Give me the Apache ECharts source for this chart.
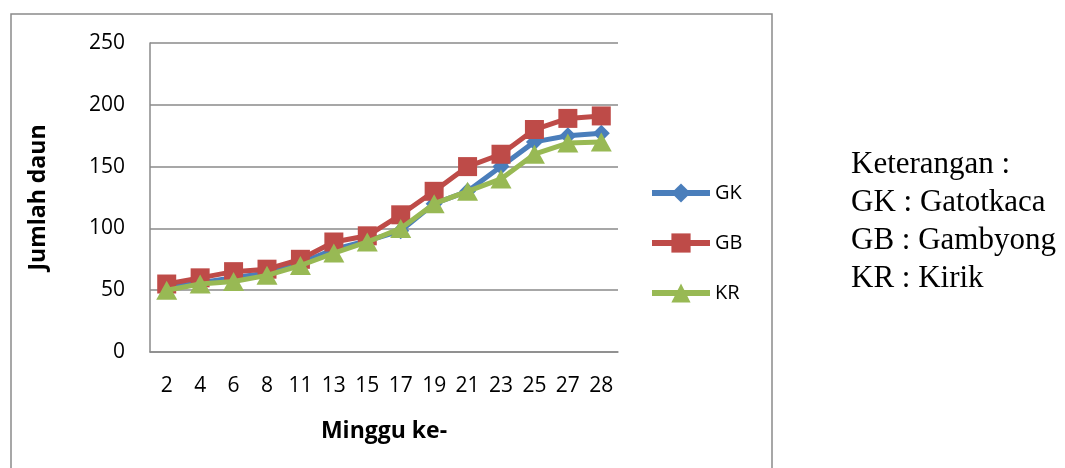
<!DOCTYPE html>
<html>
<head>
<meta charset="utf-8">
<script src="https://cdn.jsdelivr.net/npm/echarts@6/dist/echarts.min.js"></script>
<style>
  html, body { margin: 0; padding: 0; background: #ffffff; }
  #chart { width: 1065px; height: 468px; }
</style>
</head>
<body>
<div id="chart"></div>
<script>
// Week numbers on the x axis
const weeks = ['2', '4', '6', '8', '11', '13', '15', '17', '19', '21', '23', '25', '27', '28'];

// Leaf counts per variety
const gatotkaca = [52, 56, 60, 64, 72, 83, 90, 98, 120, 130, 150, 170, 175, 177];
const gambyong  = [55, 60, 65, 67, 75, 89, 94, 111, 130, 150, 160, 180, 189, 191];
const kirik     = [50, 55, 57, 62, 70, 80, 89, 100, 120, 130, 140, 160, 169, 170];

const seriesNames = ['GK', 'GB', 'KR'];
const noteLines = ['Keterangan :', 'GK : Gatotkaca', 'GB : Gambyong', 'KR : Kirik'];

const colors = ['#4A7EBB', '#BE4B48', '#98B954'];
const symbols = ['diamond', 'rect', 'triangle'];
const sizes = [[17, 17], [19, 19], [21, 19]];
const datasets = [gatotkaca, gambyong, kirik];

const chart = echarts.init(document.getElementById('chart'), null, { renderer: 'canvas' });

const labelFont = '"Open Sans", "Noto Sans", sans-serif';

chart.setOption({
  animation: false,
  backgroundColor: '#ffffff',
  color: colors,
  grid: { left: 150, right: 447, top: 43, bottom: 116, containLabel: false },
  legend: {
    orient: 'vertical',
    left: 649,
    top: 183,
    padding: 0,
    itemWidth: 58,
    itemHeight: 24,
    itemGap: 30,
    data: seriesNames,
    lineStyle: { width: 6 },
    textStyle: { fontFamily: labelFont, fontSize: 20, color: '#000' }
  },
  xAxis: {
    type: 'category',
    data: weeks,
    boundaryGap: true,
    name: 'Minggu ke-',
    nameLocation: 'middle',
    nameGap: 68,
    nameTextStyle: { fontFamily: labelFont, fontSize: 23, fontWeight: 'bold', color: '#000' },
    axisLine: { lineStyle: { color: '#8a8a8a', width: 1.5 } },
    axisTick: { show: false },
    axisLabel: { margin: 24, fontFamily: labelFont, fontSize: 21, color: '#000', interval: 0 }
  },
  yAxis: {
    type: 'value',
    min: 0,
    max: 250,
    interval: 50,
    name: 'Jumlah daun',
    nameLocation: 'middle',
    nameGap: 100,
    nameRotate: 90,
    nameTextStyle: { fontFamily: labelFont, fontSize: 23, fontWeight: 'bold', color: '#000' },
    axisLine: { show: true, lineStyle: { color: '#8a8a8a', width: 1.5 } },
    axisTick: { show: false },
    splitLine: { lineStyle: { color: '#8a8a8a', width: 1.5 } },
    axisLabel: { margin: 25, fontFamily: labelFont, fontSize: 21, color: '#000' }
  },
  series: seriesNames.map((name, i) => ({
    name: name,
    type: 'line',
    data: datasets[i],
    symbol: symbols[i],
    symbolSize: sizes[i],
    lineStyle: { width: 5, color: colors[i] },
    itemStyle: { color: colors[i] },
    z: 2 + i
  })),
  graphic: [
    {
      type: 'rect',
      shape: { x: 11, y: 14, width: 761, height: 480 },
      style: { fill: 'none', stroke: '#8a8a8a', lineWidth: 1.5 },
      silent: true
    },
    {
      type: 'text',
      left: 851,
      top: 146,
      style: {
        text: noteLines.join('\n'),
        font: '31px "Liberation Serif", "Times New Roman", serif',
        lineHeight: 38,
        fill: '#000'
      }
    }
  ]
});
</script>
</body>
</html>
